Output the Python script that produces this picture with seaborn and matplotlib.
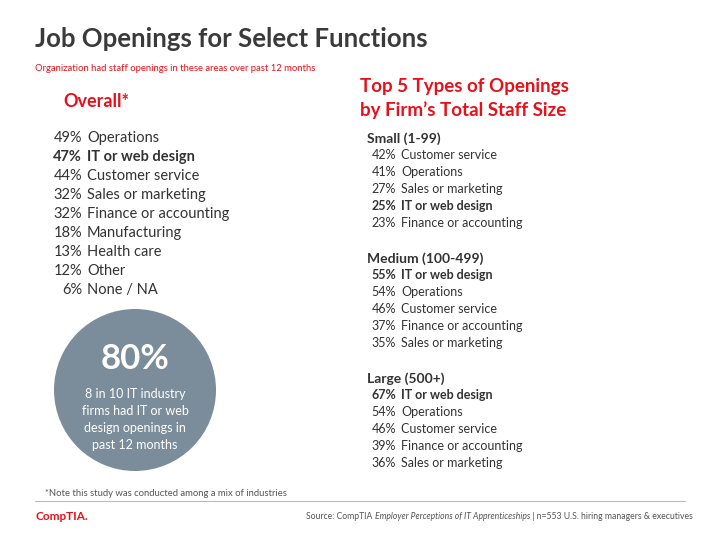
import matplotlib
matplotlib.use("Agg")
import matplotlib.pyplot as plt
import seaborn as sns
from matplotlib.patches import Circle

sns.set_theme(style="white")
FONT = "Lato"
plt.rcParams["font.family"] = FONT

overall_labels = ["Operations", "IT or web design", "Customer service", "Sales or marketing",
                  "Finance or accounting", "Manufacturing", "Health care", "Other", "None / NA"]
overall_values = [49, 47, 44, 32, 32, 18, 13, 12, 6]

small_labels = ["Customer service", "Operations", "Sales or marketing", "IT or web design", "Finance or accounting"]
small_values = [42, 41, 27, 25, 23]
medium_labels = ["IT or web design", "Operations", "Customer service", "Finance or accounting", "Sales or marketing"]
medium_values = [55, 54, 46, 37, 35]
large_labels = ["IT or web design", "Operations", "Customer service", "Finance or accounting", "Sales or marketing"]
large_values = [67, 54, 46, 39, 36]
group_titles = ["Small (1-99)", "Medium (100-499)", "Large (500+)"]

RED = "#e8101a"
DARK = "#333333"
W, H = 720, 540
fig = plt.figure(figsize=(7.2, 5.4), dpi=100)
ax = fig.add_axes([0, 0, 1, 1])
ax.set_xlim(0, W); ax.set_ylim(H, 0); ax.axis("off")

def t(x, y, s, size, **kw):
    # y is the visual center of lowercase/caps; place on baseline
    kw.setdefault("color", DARK)
    return ax.text(x, y + size * 0.48, s, va="baseline", fontsize=size, **kw)

t(35, 38, "Job Openings for Select Functions", 18.5, fontweight="bold", color="#3a3a3a")
t(35, 68, "Organization had staff openings in these areas over past 12 months", 6.8, color=RED)
t(63, 101, "Overall*", 13, fontweight="bold", color=RED)
for i, (lab, v) in enumerate(zip(overall_labels, overall_values)):
    y = 137 + i * 19
    fw = "bold" if lab == "IT or web design" else "normal"
    t(82, y, f"{v}%", 10.5, ha="right", fontweight=fw)
    t(87, y, lab, 10.5, fontweight=fw)

ax.add_patch(Circle((135, 390), 81, color="#7b8d9a", ec="none"))
t(135, 357, "80%", 25, ha="center", fontweight="bold", color="white")
for i, line in enumerate(["8 in 10 IT industry", "firms had IT or web", "design openings in", "past 12 months"]):
    t(135, 394 + i * 17, line, 9, ha="center", color="white")

t(360, 86, "Top 5 Types of Openings", 13.5, fontweight="bold", color=RED)
t(360, 110, "by Firm\u2019s Total Staff Size", 13.5, fontweight="bold", color=RED)
groups = [(small_labels, small_values), (medium_labels, medium_values), (large_labels, large_values)]
for g, ((labs, vals), title) in enumerate(zip(groups, group_titles)):
    y0 = 138 + g * 120
    t(367, y0, title, 10, fontweight="bold")
    for i, (lab, v) in enumerate(zip(labs, vals)):
        y = y0 + 17 * (i + 1)
        fw = "bold" if lab == "IT or web design" else "normal"
        t(396, y, f"{v}%", 9, ha="right", fontweight=fw)
        t(401, y, lab, 9, fontweight=fw)

t(45, 493, "*Note this study was conducted among a mix of industries", 6.8, color="#555555")
ax.plot([35, 685], [501, 501], color="#bbbbbb", lw=0.8)
t(35, 516, "CompTIA.", 8.5, fontweight="bold", color=RED)

fig.canvas.draw()
r = fig.canvas.get_renderer()
x = 306
for s, st in [("Source: CompTIA ", "normal"), ("Employer Perceptions of IT Apprenticeships", "italic"),
              (" | n=553 U.S. hiring managers & executives", "normal")]:
    tx = t(x, 516, s, 6.2, style=st, color="#555555")
    bb = tx.get_window_extent(renderer=r)
    x += bb.width
fig.savefig("out.png", dpi=100, facecolor="white")
